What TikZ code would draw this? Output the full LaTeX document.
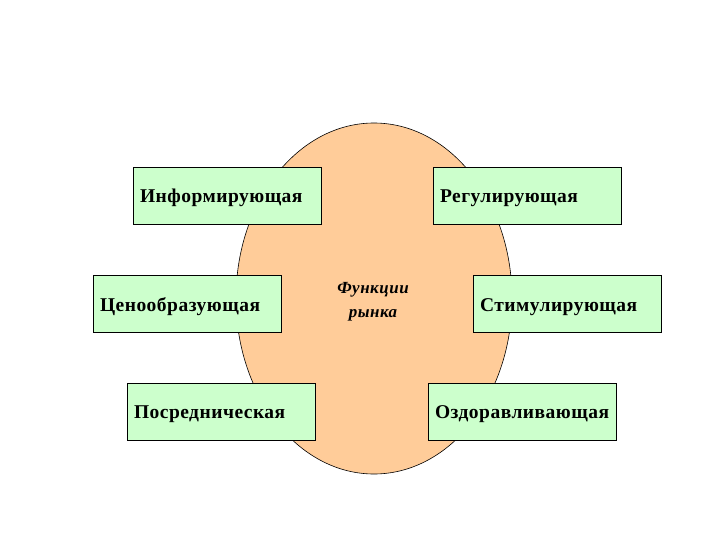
\documentclass[tikz,border=0pt]{standalone}
\usepackage{fontspec}
\setmainfont{Liberation Serif}
\usetikzlibrary{shapes.geometric}
\definecolor{boxgreen}{HTML}{CCFFCC}
\definecolor{peach}{HTML}{FFCC99}
\begin{document}
\begin{tikzpicture}[x=1pt,y=-1pt,
  fbox/.style={draw=black, line width=0.8pt, fill=boxgreen, minimum width=188pt, minimum height=57pt,
    inner sep=0pt, font=\fontsize{19.5}{21}\selectfont\bfseries\addfontfeatures{LetterSpace=2.5},
    text width=174pt, text height=18pt, text depth=4pt, align=left},
  ]
\useasboundingbox (0,0) rectangle (720,540);
\fill[white] (0,0) rectangle (720,540);
\node[ellipse, draw=black, line width=0.6pt, fill=peach, minimum width=276pt, minimum height=351pt, inner sep=0pt] (market) at (374,298.5) {};
\node[font=\fontsize{17}{23.5}\selectfont\bfseries\itshape\addfontfeatures{LetterSpace=3}, align=center] (title) at (373,301.5) {Функции\\рынка};
\node[fbox] (inf) at (227,195.5) {Информирующая};
\node[fbox] (reg) at (527,195.5) {Регулирующая};
\node[fbox] (cen) at (187,304) {Ценообразующая};
\node[fbox] (stim) at (567,304) {Стимулирующая};
\node[fbox] (posr) at (221,411.5) {Посредническая};
\node[fbox] (ozd) at (522,411.5) {Оздоравливающая};
\end{tikzpicture}
\end{document}
